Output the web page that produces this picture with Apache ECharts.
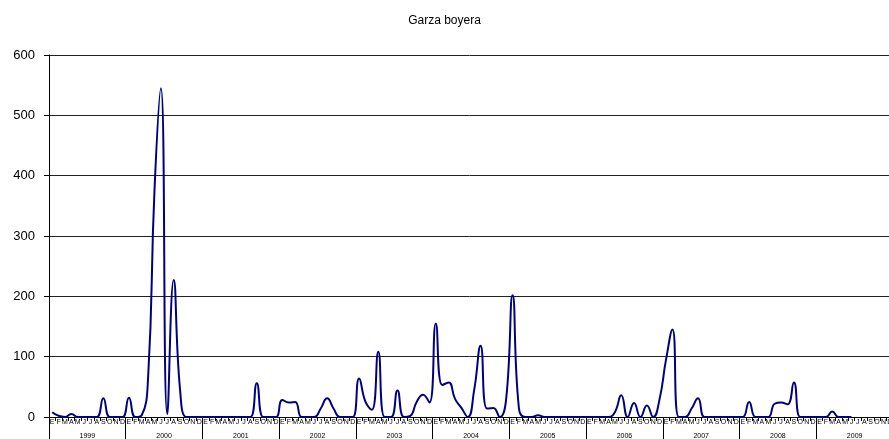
<!DOCTYPE html>
<html>
<head>
<meta charset="utf-8">
<script src="https://cdn.jsdelivr.net/npm/echarts@6/dist/echarts.min.js"></script>
<style>
html,body{margin:0;padding:0;background:#fff;overflow:hidden;}
#chart{width:889px;height:439px;}
</style>
</head>
<body>
<div id="chart"></div>
<script>
var years = ['1999','2000','2001','2002','2003','2004','2005','2006','2007','2008','2009'];
var monthLetters = ['E','F','M','A','M','J','J','A','S','O','N','D'];
var yTicks = [0,100,200,300,400,500,600];

var v1999 = [8, 2, 0, 5, 0, 0, 0, 0, 31, 0, 0, 0];
var v2000 = [32, 0, 3, 65, 376, 545, 5, 227, 45, 0, 0, 0];
var v2001 = [0, 0, 0, 0, 0, 0, 0, 0, 56, 0, 0, 0];
var v2002 = [28, 24, 25, 0, 0, 0, 14, 31, 14, 0, 0, 0];
var v2003 = [64, 25, 12, 108, 0, 0, 44, 0, 2, 25, 37, 24];
var v2004 = [155, 53, 57, 30, 15, 0, 45, 118, 14, 15, 0, 30];
var v2005 = [202, 14, 0, 0, 3, 0, 0, 0, 0, 0, 0, 0];
var v2006 = [0, 0, 0, 0, 8, 36, 0, 23, 0, 19, 0, 30];
var v2007 = [95, 145, 0, 0, 14, 31, 0, 0, 0, 0, 0, 0];
var v2008 = [0, 25, 0, 0, 0, 22, 24, 21, 57, 0, 0, 0];
var v2009 = [0, 0, 9, 0, 0, 0, null, null, null, null, null, null];

var categories = [];
years.forEach(function(y){ monthLetters.forEach(function(m){ categories.push(m); }); });
var values = [].concat(v1999, v2000, v2001, v2002, v2003, v2004, v2005, v2006, v2007, v2008, v2009);

var chart = echarts.init(document.getElementById('chart'), null, {renderer:'canvas'});
var font = '"Liberation Sans", Arial, sans-serif';
chart.setOption({
  animation: false,
  backgroundColor: '#ffffff',
  title: {
    text: 'Garza boyera', left: 'center', top: 10,
    textStyle: {fontFamily: font, fontSize: 12, fontWeight: 'normal', color: '#000'}
  },
  grid: {left: 49, width: 844, top: 55, bottom: 22, containLabel: false, outerBoundsMode: 'none'},
  xAxis: [
    {
      type: 'category', data: categories, boundaryGap: true, position: 'bottom',
      axisLine: {show: true, lineStyle: {color: '#000', width: 1}},
      axisTick: {show: true, length: 4, interval: 0, lineStyle: {color: '#000'}},
      axisLabel: {interval: 0, fontSize: 7, margin: 2, color: '#000', fontFamily: font},
      splitLine: {show: false}
    },
    {
      type: 'category', data: years, boundaryGap: true, position: 'bottom', offset: 0,
      axisLine: {show: false},
      axisTick: {show: true, length: 24, interval: 0, lineStyle: {color: '#000'}},
      axisLabel: {interval: 0, fontSize: 7, margin: 16, color: '#000', fontFamily: font},
      splitLine: {show: false}
    }
  ],
  yAxis: {
    type: 'value', min: yTicks[0], max: yTicks[yTicks.length-1], interval: 100,
    axisLine: {show: true, lineStyle: {color: '#000'}},
    axisTick: {show: true, length: 5, lineStyle: {color: '#000'}},
    axisLabel: {fontSize: 13, margin: 14, color: '#000', fontFamily: font},
    splitLine: {show: true, lineStyle: {color: '#222', width: 1}}
  },
  series: [{
    type: 'line', data: values, xAxisIndex: 0, smooth: 0.5,
    showSymbol: false, connectNulls: false,
    lineStyle: {color: '#000080', width: 2},
    itemStyle: {color: '#000080'}
  }]
});
</script>
</body>
</html>
